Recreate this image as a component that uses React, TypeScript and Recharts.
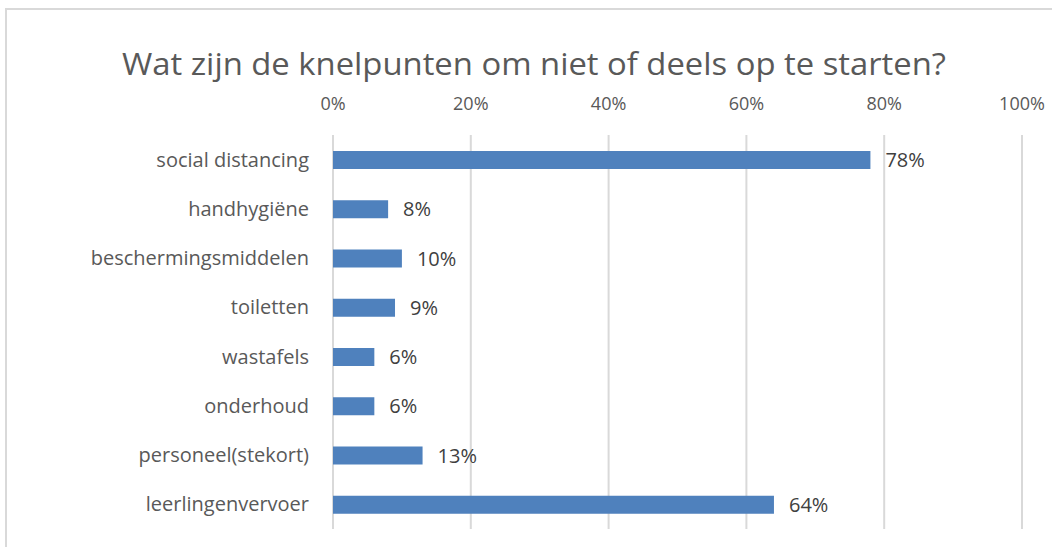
import React from 'react';
import { BarChart, Bar, XAxis, YAxis, CartesianGrid, LabelList } from 'recharts';

const categories = [
  'social distancing',
  'handhygiëne',
  'beschermingsmiddelen',
  'toiletten',
  'wastafels',
  'onderhoud',
  'personeel(stekort)',
  'leerlingenvervoer',
];
const values = [0.78, 0.08, 0.1, 0.09, 0.06, 0.06, 0.13, 0.64];
const ticks = [0, 0.2, 0.4, 0.6, 0.8, 1];
const title = 'Wat zijn de knelpunten om niet of deels op te starten?';

const data = categories.map((name, i) => ({ name, value: values[i] }));
const pct = (v: number) => `${Math.round(v * 100)}%`;
const FONT = '"Open Sans", sans-serif';

export default function App() {
  return (
    <div style={{ position: 'absolute', left: 0, top: 0, width: 1052, height: 547, background: '#fff' }}>
      <div
        style={{
          position: 'absolute',
          left: 5,
          top: 8,
          width: 1060,
          height: 560,
          borderLeft: '2px solid #d9d9d9',
          borderTop: '2px solid #d9d9d9',
        }}
      />
      <BarChart
        width={1052}
        height={547}
        data={data}
        layout="vertical"
        margin={{ top: 95, right: 30, bottom: 18, left: 0 }}
        barCategoryGap={0}
        style={{ position: 'absolute', left: 0, top: 0 }}
      >
        <text
          x={534}
          y={75}
          textAnchor="middle"
          fontFamily={FONT}
          fontSize={31}
          fill="#595959"
          textLength={824}
          lengthAdjust="spacingAndGlyphs"
        >
          {title}
        </text>
        <CartesianGrid horizontal={false} stroke="#d9d9d9" strokeWidth={2} />
        <XAxis
          type="number"
          orientation="top"
          domain={[0, 1]}
          ticks={ticks}
          tickFormatter={pct}
          axisLine={false}
          tickLine={false}
          tickSize={0}
          tickMargin={25}
          height={40}
          tick={{ fill: '#595959', fontSize: 18, fontFamily: FONT }}
        />
        <YAxis
          type="category"
          dataKey="name"
          width={333}
          axisLine={false}
          tickLine={false}
          tickSize={0}
          tickMargin={24}
          tick={{ fill: '#595959', fontSize: 20, fontFamily: FONT }}
        />
        <Bar dataKey="value" fill="#4f81bd" barSize={18} isAnimationActive={false}>
          <LabelList
            dataKey="value"
            position="right"
            offset={15}
            formatter={(v: any) => pct(Number(v))}
            style={{ fill: '#404040', fontSize: 20, fontFamily: FONT }}
          />
        </Bar>
      </BarChart>
    </div>
  );
}
